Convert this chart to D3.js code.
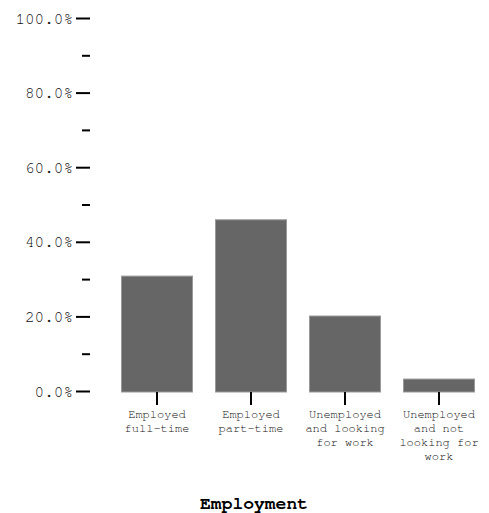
<!DOCTYPE html>
<html><head><meta charset="utf-8">
<script src="https://cdn.jsdelivr.net/npm/d3@7"></script>
<style>body{margin:0;background:#fff}</style>
</head><body>
<script>
const categories = [["Employed","full-time"],["Employed","part-time"],["Unemployed","and looking","for work"],["Unemployed","and not","looking for","work"]];
const values = [0.308, 0.459, 0.201, 0.032];
const yTicks = [0,0.1,0.2,0.3,0.4,0.5,0.6,0.7,0.8,0.9,1.0];
const yLabels = ["0.0%","","20.0%","","40.0%","","60.0%","","80.0%","","100.0%"];
const xTitle = "Employment";

const W = 489, H = 513;
const FONT = "FreeMono, 'Courier New', monospace";
const svg = d3.select("body").append("svg").attr("width", W).attr("height", H);
const idx = categories.map((d,i)=>i);
const x = d3.scaleBand().domain(idx).range([110, 486]).paddingInner(0.234).paddingOuter(0.117);
const y = d3.scaleLinear().domain([0,1]).range([391, 18]);

svg.selectAll("rect.bar").data(values).join("rect")
  .attr("class","bar")
  .attr("x",(d,i)=>x(i)+0.5)
  .attr("width",x.bandwidth()-1)
  .attr("y",d=>y(d))
  .attr("height",d=>y(0)-y(d)+1)
  .attr("fill","#666").attr("stroke","#999").attr("stroke-width",1);

// y axis
const ya = svg.append("g").attr("transform","translate(90,0)")
  .call(d3.axisLeft(y).tickValues(yTicks).tickFormat((d,i)=>yLabels[i]).tickSizeOuter(0));
ya.select(".domain").remove();
ya.selectAll(".tick line").attr("stroke","#000").attr("stroke-width",2)
  .attr("x2",(d,i)=>yLabels[i]?-14:-8);
ya.selectAll(".tick text").attr("x",-17).attr("font-family",FONT)
  .attr("font-size",16).attr("fill","#111");

// x axis
const xa = svg.append("g").attr("transform","translate(0,392)")
  .call(d3.axisBottom(x).tickSizeOuter(0).tickSize(13).tickFormat(""));
xa.select(".domain").remove();
xa.selectAll(".tick line").attr("stroke","#000").attr("stroke-width",2);
xa.selectAll(".tick").each(function(d){
  const t = d3.select(this).append("text").attr("fill","#111")
    .attr("font-family",FONT).attr("font-size",12)
    .attr("text-anchor","middle");
  categories[d].forEach((s,j)=>t.append("tspan").attr("x",0).attr("y",26+j*14).text(s));
});

svg.append("text").attr("x",254).attr("y",509).attr("text-anchor","middle")
  .attr("font-family",FONT).attr("font-weight","bold")
  .attr("font-size",18).attr("fill","#000").text(xTitle);
</script>
</body></html>
